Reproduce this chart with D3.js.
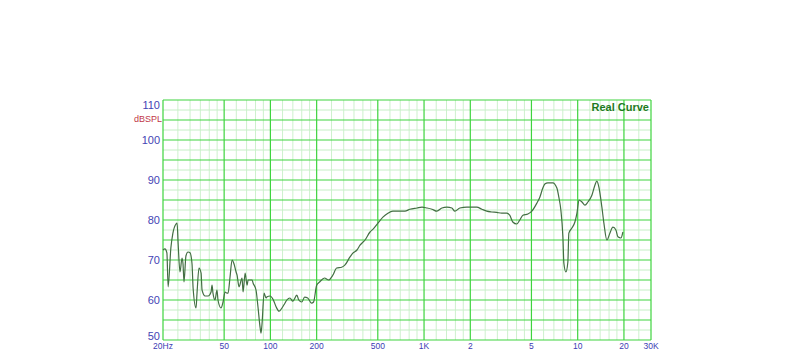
<!DOCTYPE html>
<html><head><meta charset="utf-8">
<script src="https://cdn.jsdelivr.net/npm/d3@7"></script>
<style>body{margin:0;background:#fff}svg{display:block}</style>
</head><body>
<script>
const freqs = [20,20.6,21.2,21.6,22.5,23.2,24.3,24.7,25.1,25.8,26.6,27.0,27.4,28.2,29.1,30,30.9,31.4,32.8,33.3,34.3,35.4,35.9,37.6,39.3,41.1,41.7,42.3,43.6,44.9,45.6,47.7,49.2,50.7,52.2,53.0,54.6,56.3,58.0,59.8,60.7,62.5,65.4,66.4,68.5,70.5,71.6,76.0,77.2,80.6,83.0,85.6,86.9,88.2,91.0,93.7,95.1,99.5,104,108.9,113.8,118.9,124.3,128,134,140,148.6,153,160,167,175,185,191,200,209,225,239,255,270,291,305,329,344,366,383,413,445,466,501,540,582,627,697,751,809,900,970,1045,1126,1213,1307,1408,1517,1587,1710,1901,2050,2205,2376,2560,2758,2970,3200,3450,3610,3780,4010,4200,4400,4740,5030,5420,5670,5930,6110,6400,6890,7320,7540,7770,8010,8130,8380,8630,8760,9170,9590,9890,10200,10660,11150,11660,12370,12940,13330,13740,14370,14810,15490,16200,16950,17730,18270,19110,19690];
const spl = [72.5,72.8,71.8,63.3,73,76.7,79,79.2,74,67,70.5,69,64.5,71,72,71.8,69,63,58,61.7,68,66.7,62.5,61,61,62,63.7,61.7,60,62.5,60,58,59.5,62,61.7,61.7,65.7,70,69,67,66.2,63.3,65.5,62,66.7,63.7,65,65,64.2,62.5,58.3,53.3,51.7,54,61.7,60.5,60.8,61,60.2,58.3,57.2,58,59.2,60,60.5,59.7,61.2,60,59.5,60.7,60.5,59.2,59.5,63.7,64.5,65.5,65,66.2,68,68.2,68.7,70.7,71.7,72.5,73.7,75,77,77.7,79.2,80.7,81.7,82.2,82.2,82.2,82.7,83,83.2,83,82.7,82.2,83,83.2,83,82.2,83,83.2,83.2,83.2,82.7,82.2,82,81.9,81.7,81.7,81.2,79.5,79,80,81.2,81.5,82.2,84.2,85.7,88,89,89.3,89.3,88,85.7,82.5,75.8,69.2,67,69.5,76.7,78,79.5,81.7,85,84.5,83.7,84.5,86.2,88.7,89.7,88.2,83.2,79.2,75,76.7,78.2,77.5,75.8,75.5,77];
const xTickValues = [20,50,100,200,500,1000,2000,5000,10000,20000,30000];
const xTickLabels = ["20Hz","50","100","200","500","1K","2","5","10","20","30K"];
const yTickValues = [110,100,90,80,70,60,50];
const yMajor = [50,55,60,65,70,75,80,85,90,95,100,105,110];
const yMinor = [52.5,57.5,62.5,67.5,72.5,77.5,82.5,87.5,92.5,97.5,102.5,107.5];
const xMinorMultiples = [1.2,1.4,1.6,1.8,2.5,3,3.5,4,4.5,6,7,8,9];
const decades = [10,100,1000,10000];

const W = 800, H = 359;
const m = {left:163, right:651, top:100, bottom:340};
const font = "Liberation Sans, Arial, sans-serif";
const svg = d3.select("body").append("svg").attr("width",W).attr("height",H);
const x = d3.scaleLog().domain([20,30000]).range([m.left,m.right]);
const y = d3.scaleLinear().domain([50,110]).range([m.bottom,m.top]);

const xMinor = [];
decades.forEach(d => xMinorMultiples.forEach(k => { const f = d*k; if (f>20 && f<30000 && !xTickValues.includes(f)) xMinor.push(f); }));

const g = svg.append("g");
g.selectAll(".xmin").data(xMinor).join("line")
  .attr("x1",d=>x(d)).attr("x2",d=>x(d)).attr("y1",m.top).attr("y2",m.bottom)
  .attr("stroke","#cdf1cd").attr("stroke-width",1);
g.selectAll(".ymin").data(yMinor).join("line")
  .attr("x1",m.left).attr("x2",m.right).attr("y1",d=>y(d)).attr("y2",d=>y(d))
  .attr("stroke","#c6efc6").attr("stroke-width",1);
g.selectAll(".xmaj").data(xTickValues).join("line")
  .attr("x1",d=>x(d)).attr("x2",d=>x(d)).attr("y1",m.top).attr("y2",m.bottom)
  .attr("stroke","#3ed43e").attr("stroke-width",1.2);
g.selectAll(".ymaj").data(yMajor).join("line")
  .attr("x1",m.left).attr("x2",m.right).attr("y1",d=>y(d)).attr("y2",d=>y(d))
  .attr("stroke","#3ed43e").attr("stroke-width",1.2);

const data = freqs.map((f,i)=>({f, v:spl[i]}));
const line = d3.line().x(d=>x(d.f)).y(d=>y(d.v)).curve(d3.curveMonotoneX);
svg.append("path").datum(data).attr("d",line).attr("fill","none")
  .attr("stroke","#436f43").attr("stroke-width",1.2);

// Y labels
svg.selectAll(".yl").data(yTickValues).join("text")
  .attr("x",m.left-3).attr("y",d=>d===110 ? y(d)+5 : (d===50 ? y(d)-4 : y(d)))
  .attr("dy","0.35em").attr("text-anchor","end")
  .attr("font-family",font).attr("font-size",11)
  .attr("fill","#4444b4").text(d=>d);
svg.append("text").attr("x",m.left-1).attr("y",y(105)-1).attr("dy","0.35em")
  .attr("text-anchor","end").attr("font-family",font)
  .attr("font-size",9).attr("fill","#c03848").text("dBSPL");
// X labels
svg.selectAll(".xl").data(xTickValues).join("text")
  .attr("x",d=>x(d)).attr("y",m.bottom+6).attr("dy","0.35em").attr("text-anchor","middle")
  .attr("font-family",font).attr("font-size",8.5)
  .attr("fill","#3c3cb4").text((d,i)=>xTickLabels[i]);
svg.append("text").attr("x",m.right-2).attr("y",m.top+7).attr("dy","0.35em")
  .attr("text-anchor","end").attr("font-family",font)
  .attr("font-size",11).attr("font-weight","bold").attr("fill","#1e7a1e").text("Real Curve");
</script>
</body></html>
